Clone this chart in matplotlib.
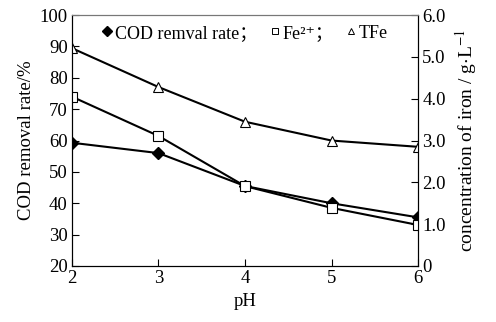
import matplotlib.pyplot as plt
from matplotlib.lines import Line2D

plt.rcParams['font.family'] = ['Liberation Serif', 'Noto Sans CJK SC', 'DejaVu Serif']
plt.rcParams['mathtext.fontset'] = 'stix'

ph = [2, 3, 4, 5, 6]
cod_rate = [59.3, 56.0, 45.5, 40.0, 35.5]      # %, left axis
fe2 = [4.05, 3.11, 1.91, 1.39, 0.98]           # g/L, right axis
tfe = [5.21, 4.28, 3.45, 3.00, 2.85]           # g/L, right axis

fs = 13.5

fig = plt.figure(figsize=(4.96, 3.22), dpi=100)
ax = fig.add_axes([0.145, 0.174, 0.698, 0.779])
ax2 = ax.twinx()

ax.plot(ph, cod_rate, color='black', lw=1.5, marker='D', ms=6,
        mfc='black', mec='black', zorder=5)
ax2.plot(ph, fe2, color='black', lw=1.5, marker='s', ms=7,
         mfc='white', mec='black', mew=0.8)
ax2.plot(ph, tfe, color='black', lw=1.5, marker='^', ms=7,
         mfc='white', mec='black', mew=0.8)

ax.set_xlim(2, 6)
ax.set_ylim(20, 100)
ax2.set_ylim(0, 6)
ax.set_xticks(ph)
ax.set_yticks(range(20, 101, 10))
ax2.set_yticks(range(0, 7))
ax2.set_yticklabels(['0', '1.0', '2.0', '3.0', '4.0', '5.0', '6.0'])

for a in (ax, ax2):
    a.tick_params(direction='in', labelsize=fs, length=5, width=0.8, pad=3)
    for s in a.spines.values():
        s.set_linewidth(0.8)
ax.spines['top'].set_color('#777777')
ax2.spines['top'].set_color('#777777')

ax.set_xlabel('pH', fontsize=fs, labelpad=4)
ax.set_ylabel('COD removal rate/%', fontsize=fs, labelpad=3)
ax2.set_ylabel('concentration of iron / g$\\cdot$L$^{-1}$', fontsize=14, labelpad=5)

handles = [
    Line2D([], [], ls='none', marker='D', ms=5, mfc='black', mec='black'),
    Line2D([], [], ls='none', marker='s', ms=5, mfc='white', mec='black', mew=0.7),
    Line2D([], [], ls='none', marker='^', ms=5, mfc='white', mec='black', mew=0.7),
]
labels = ['COD remval rate；', 'Fe²⁺；', 'TFe']
ax.legend(handles, labels, loc='upper left', bbox_to_anchor=(0.045, 1.02),
          ncol=3, frameon=False, fontsize=13, handlelength=0.6,
          handletextpad=0.1, columnspacing=0.7, borderpad=0.3)

fig.savefig('out.png', dpi=100)
